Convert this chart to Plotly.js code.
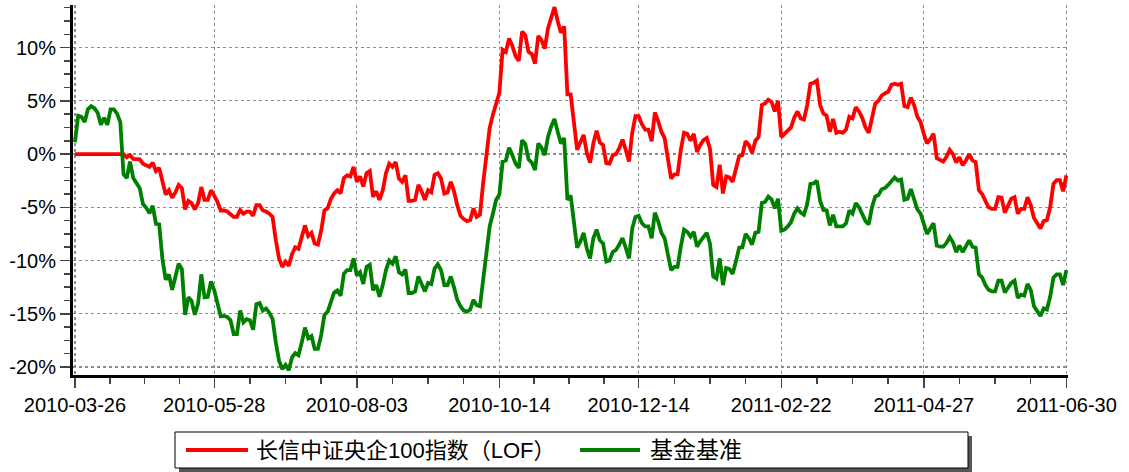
<!DOCTYPE html>
<html>
<head>
<meta charset="utf-8">
<script src="https://cdn.plot.ly/plotly-3.0.1.min.js"></script>
<style>html,body{margin:0;padding:0;background:#fff;}#chart{width:1129px;height:472px;}</style>
</head>
<body>
<div id="chart"></div>
<script>
// Series names
const seriesNames = ["长信中证央企100指数（LOF）", "基金基准"];

// Tick labels on the trading-day axis (index of trading day, label)
const tickIdx = [0, 43, 87, 131, 174, 218, 262, 306];
const tickLabels = ["2010-03-26","2010-05-28","2010-08-03","2010-10-14","2010-12-14","2011-02-22","2011-04-27","2011-06-30"];

const yTickVals = [-20, -15, -10, -5, 0, 5, 10];
const yTickText = ["-20%", "-15%", "-10%", "-5%", "0%", "5%", "10%"];

// Fund cumulative return (%), one value per trading day
const fundReturn = [
 0,0,0,0,0,0,0,0,0,0,0,0,0,0,0,0,
 -0.3,-0.1,-0.45,-0.45,-0.5,-0.9,-1.1,-1.2,-0.8,-1.6,-1.3,-2.4,-3.8,-3.4,-4.1,-3.6,-2.9,-3.2,-5.2,-4.4,-4.6,-5.2,-4.6,-3.1,-4.3,-4.3,-3.4,-3.9,
 -4.5,-5.3,-5.3,-5.4,-5.6,-5.9,-5.9,-5.25,-5.6,-5.4,-5.4,-5.8,-4.8,-4.8,-5.3,-5.4,-5.6,-5.9,-8.1,-9.8,-10.6,-10.1,-10.5,-9.4,-8.75,-8.9,-7.8,-6.7,-7.7,-7.4,-8.4,-8.5,-7.2,-5.3,-5.1,-4.2,-3.7,-3.4,-3.7,-2.25,-2.0,-2.1,-1.2,
 -2.6,-2.1,-3.05,-1.8,-1.6,-4.0,-3.5,-4.3,-3.4,-1.8,-0.9,-1.2,-0.75,-2.3,-2.6,-2.0,-4.4,-4.4,-4.3,-2.9,-3.5,-4.3,-3.4,-3.6,-1.95,-1.8,-2.3,-3.7,-3.6,-2.6,-3.5,-4.8,-5.8,-6.1,-6.3,-6.2,-5.1,-5.9,-5.7,-2.7,0.1,2.45,3.7,4.8,5.75,
 9.8,9.6,10.85,10.15,9.2,8.75,11.5,11.15,9.6,9.4,8.5,11.1,10.7,9.9,11.8,12.75,13.8,12.5,11.4,12.0,5.6,5.6,2.9,0.4,1.1,1.8,0.1,-0.8,1.0,2.2,1.1,0.85,-0.85,-0.9,-0.1,0.0,0.55,1.35,0.4,-0.7,2.0,3.55,3.55,2.8,
 2.3,2.3,1.2,3.9,3.1,2.1,1.5,-0.3,-2.3,-1.9,-1.9,0.4,2.0,1.9,1.25,1.9,0.2,0.85,1.3,1.5,0.5,-2.9,-3.1,-1.0,-3.7,-2.1,-2.2,-2.6,-1.3,-0.2,-0.1,1.2,0.85,0.1,1.25,1.6,4.6,4.75,5.1,4.9,4.0,5.0,1.6,
 1.85,2.2,2.5,3.4,4.0,3.35,3.25,4.6,6.6,6.7,6.9,4.6,3.8,3.6,2.1,3.3,2.0,2.1,2.0,2.3,3.5,3.35,4.4,4.0,3.4,2.5,2.0,3.5,4.75,5.0,5.5,5.7,5.85,6.5,6.6,6.5,6.6,4.5,4.4,5.3,4.6,3.5,3.0,1.9,
 1.0,1.4,1.9,-0.4,-0.55,-0.7,-0.25,0.4,0.0,-0.8,-0.3,-1.05,-0.6,0.0,-0.6,-0.75,-3.4,-3.75,-4.4,-5.0,-5.15,-5.15,-4.05,-4.1,-5.5,-4.8,-4.2,-4.05,-5.6,-5.15,-5.15,-4.05,-4.8,-6.0,-6.5,-7.0,-6.3,-6.2,-5.0,-2.8,-2.45,-2.45,-3.5,-2.0
];

// Benchmark cumulative return (%)
const benchReturn = [
 1.1,3.6,3.5,3.0,4.2,4.5,4.3,3.9,2.75,3.4,2.75,4.2,4.2,3.8,3.0,
 -1.9,-2.25,-0.7,-2.25,-2.8,-3.2,-4.7,-5.05,-5.55,-4.85,-6.55,-6.6,-9.85,-11.8,-11.3,
 -12.75,-11.55,-10.3,-10.8,-15.1,-13.45,-13.8,-15.1,-14.05,-11.3,-13.45,-13.4,-11.95,-12.8,
 -14.1,-15.25,-15.2,-15.3,-15.6,-16.9,-16.9,-14.7,-15.8,-15.5,-15.6,-16.5,-14.1,-14.0,-14.7,-14.5,-14.9,-15.5,-17.7,-19.4,-20.2,-19.8,-20.3,-19.1,-18.7,-18.9,-17.7,-16.3,-17.3,-17.1,-18.3,-18.3,-17.0,-15.1,-14.8,-13.75,-13.0,-12.8,-13.3,-11.25,-10.9,-10.9,-9.8,
 -11.4,-11.1,-12.2,-10.6,-10.4,-12.8,-12.3,-13.4,-12.3,-10.9,-10.0,-10.3,-9.6,-11.1,-11.3,-10.85,-13.05,-13.05,-12.9,-11.5,-12.2,-12.9,-12.1,-12.2,-10.75,-10.35,-10.9,-12.3,-12.3,-11.5,-12.5,-13.7,-14.3,-14.7,-14.8,-14.6,-13.7,-14.2,-14.3,-11.9,-9.2,-6.8,-5.6,-4.3,-3.8,
 -0.7,-0.6,0.6,-0.1,-0.9,-1.3,1.3,0.95,-0.5,-0.8,-1.5,1.0,0.6,-0.1,1.6,2.6,3.3,2.1,1.0,1.5,-4.3,-3.9,-6.3,-8.8,-8.2,-7.4,-8.9,-9.8,-7.9,-7.1,-8.1,-8.4,-10.1,-10.0,-9.2,-9.0,-8.5,-7.9,-8.8,-9.8,-7.0,-5.9,-5.8,-6.5,
 -6.8,-6.8,-7.9,-5.5,-6.3,-7.4,-7.9,-9.3,-10.9,-10.6,-10.6,-8.7,-7.1,-7.3,-7.75,-7.3,-8.7,-8.2,-7.75,-7.4,-8.4,-11.5,-11.7,-9.8,-12.3,-10.7,-10.8,-11.25,-10.1,-8.8,-8.75,-7.5,-7.9,-8.5,-7.4,-7.3,-4.6,-4.5,-4.0,-4.25,-5.1,-4.2,-7.2,
 -7.1,-6.8,-6.4,-5.6,-5.1,-5.5,-5.7,-4.7,-2.8,-2.75,-2.5,-4.4,-5.25,-5.3,-6.7,-5.7,-6.8,-6.8,-6.8,-6.5,-5.3,-5.6,-4.6,-5.0,-5.6,-6.3,-6.6,-5.0,-4.0,-3.85,-3.3,-3.2,-2.9,-2.6,-2.2,-2.5,-2.4,-4.3,-4.2,-3.3,-4.3,-5.2,-5.6,-6.5,
 -7.5,-7.0,-6.5,-8.6,-8.7,-8.7,-8.35,-7.8,-8.3,-9.2,-8.6,-9.2,-8.7,-8.1,-8.7,-8.8,-11.3,-11.6,-12.3,-12.75,-12.9,-12.9,-11.9,-11.9,-13.0,-12.5,-12.1,-11.9,-13.5,-13.2,-13.3,-12.2,-12.75,-14.3,-14.8,-15.2,-14.5,-14.6,-13.4,-11.6,-11.3,-11.3,-12.3,-10.9
];

const xIdx = fundReturn.map((_, i) => i);

// minor x ticks at quarter points between labels
const minorX = [];
for (let k = 0; k < tickIdx.length - 1; k++) {
  const a = tickIdx[k], b = tickIdx[k + 1];
  for (let q = 1; q < 4; q++) minorX.push(a + (b - a) * q / 4);
}

const W = 1129, H = 472;
const M = {l: 73, r: 61, t: 5, b: 97};
const pw = W - M.l - M.r, ph = H - M.t - M.b;
const px = x => (x - M.l) / pw;
const py = y => (H - M.b - y) / ph;

const baseFont = "Liberation Sans, Arial, 'Noto Sans CJK SC', sans-serif";
const cjkFont = "'Liberation Sans', 'Noto Sans CJK SC', sans-serif";

const traces = [
  {x: xIdx, y: fundReturn, type: 'scatter', mode: 'lines', name: seriesNames[0],
   line: {color: '#ff0000', width: 3.8}, showlegend: false, hoverinfo: 'skip'},
  {x: xIdx, y: benchReturn, type: 'scatter', mode: 'lines', name: seriesNames[1],
   line: {color: '#008000', width: 3.8}, showlegend: false, hoverinfo: 'skip'}
];

// Legend drawn manually (box with shadow)
const legBox = {x0: 175, x1: 968, y0: 432, y1: 468};
const shapes = [
  {type: 'rect', xref: 'paper', yref: 'paper', x0: px(legBox.x0 + 4), x1: px(legBox.x1 + 4), y0: py(legBox.y0 + 4), y1: py(legBox.y1 + 4),
   fillcolor: '#555', line: {width: 0}},
  {type: 'rect', xref: 'paper', yref: 'paper', x0: px(legBox.x0), x1: px(legBox.x1), y0: py(legBox.y0), y1: py(legBox.y1),
   fillcolor: '#fff', line: {color: '#000', width: 1}},
  {type: 'line', xref: 'paper', yref: 'paper', x0: px(186), x1: px(248), y0: py(450), y1: py(450), line: {color: '#ff0000', width: 4}},
  {type: 'line', xref: 'paper', yref: 'paper', x0: px(580), x1: px(640), y0: py(450), y1: py(450), line: {color: '#008000', width: 4}}
];
const annotations = [
  {xref: 'paper', yref: 'paper', x: px(254), y: py(450), xanchor: 'left', yanchor: 'middle', showarrow: false,
   text: seriesNames[0], font: {family: cjkFont, size: 22, color: '#000'}},
  {xref: 'paper', yref: 'paper', x: px(648), y: py(450), xanchor: 'left', yanchor: 'middle', showarrow: false,
   text: seriesNames[1], font: {family: cjkFont, size: 23, color: '#000'}}
];

const layout = {
  width: W, height: H, margin: M,
  paper_bgcolor: '#fff', plot_bgcolor: '#fff',
  showlegend: false,
  font: {family: baseFont, size: 20, color: '#000'},
  xaxis: {
    range: [-0.6, 306.5], zeroline: false,
    tickmode: 'array', tickvals: tickIdx, ticktext: tickLabels,
    ticks: 'outside', ticklen: 10, tickwidth: 1.5, tickcolor: '#444',
    showline: true, linecolor: '#000', linewidth: 3,
    showgrid: true, gridcolor: '#8c8c8c', griddash: 'dot', gridwidth: 1.2,
    tickfont: {family: baseFont, size: 20, color: '#000'},
    minor: {tickmode: 'array', tickvals: minorX, ticks: 'outside', ticklen: 6, tickwidth: 1.5, tickcolor: '#444', showgrid: false},
    fixedrange: true
  },
  yaxis: {
    range: [-20.75, 14.0], zeroline: false,
    tickmode: 'array', tickvals: yTickVals, ticktext: yTickText,
    ticks: 'outside', ticklen: 10, tickwidth: 1.5, tickcolor: '#444',
    showline: true, linecolor: '#000', linewidth: 3,
    showgrid: true, gridcolor: '#8c8c8c', griddash: 'dot', gridwidth: 1.2,
    tickfont: {family: baseFont, size: 20, color: '#000'},
    minor: {dtick: 1.25, tick0: 0, ticks: 'outside', ticklen: 6, tickwidth: 1.5, tickcolor: '#444', showgrid: false},
    fixedrange: true
  },
  shapes: shapes,
  annotations: annotations
};

Plotly.newPlot('chart', traces, layout, {displayModeBar: false, staticPlot: true});
</script>
</body>
</html>
